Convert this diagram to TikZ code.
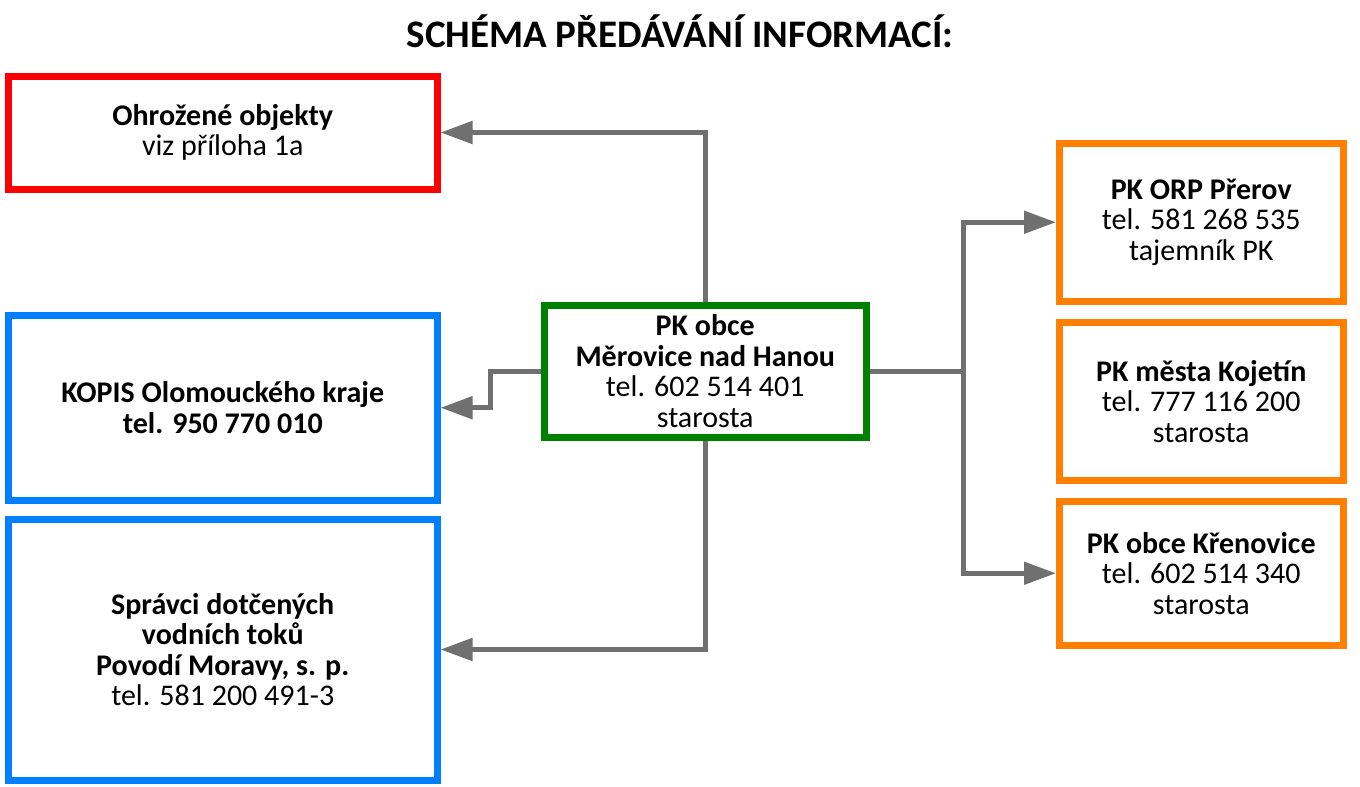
\documentclass[tikz,border=0pt]{standalone}
\usepackage{fontspec}
\setmainfont{Carlito}
\usetikzlibrary{arrows.meta}
\definecolor{cred}{RGB}{255,0,0}
\definecolor{cblue}{RGB}{0,128,255}
\definecolor{cgreen}{RGB}{0,128,0}
\definecolor{corange}{RGB}{255,128,0}
\definecolor{cgray}{RGB}{112,112,112}
\begin{document}
\begin{tikzpicture}[x=1pt,y=-1pt,
  box/.style={draw, line width=7pt, fill=white, align=center, inner sep=0pt,
    font=\fontsize{30}{30.5}\selectfont, text=black},
  conn/.style={draw=cgray, line width=5pt},
  arr/.style={conn, -{Triangle[length=32pt,width=22pt]}}]
\useasboundingbox (0,0) rectangle (1360,787);
\fill[white] (0,0) rectangle (1360,787);
\node[anchor=base, font=\bfseries\fontsize{39}{40}\selectfont] (title) at (680,47) {SCHÉMA PŘEDÁVÁNÍ INFORMACÍ:};
\node[box, draw=cred, minimum width=428.5pt, minimum height=113pt] (red) at (222.75,132.5)
  {\textbf{Ohrožené objekty}\\viz příloha 1a};
\node[box, draw=cblue, minimum width=428.5pt, minimum height=184.5pt] (blue1) at (222.75,407.75)
  {\textbf{KOPIS Olomouckého kraje}\\\textbf{tel. 950 770 010}};
\node[box, draw=cblue, minimum width=428.5pt, minimum height=261pt] (blue2) at (222.75,649.5)
  {\textbf{Správci dotčených}\\\textbf{vodních toků}\\\textbf{Povodí Moravy, s. p.}\\tel. 581 200 491-3};
\node[box, draw=cgreen, minimum width=321.5pt, minimum height=132pt] (green) at (705.25,371)
  {\textbf{PK obce}\\\textbf{Měrovice nad Hanou}\\tel. 602 514 401\\starosta};
\node[box, draw=corange, minimum width=283.5pt, minimum height=158.5pt] (o1) at (1201.25,222.25)
  {\textbf{PK ORP Přerov}\\tel. 581 268 535\\tajemník PK};
\node[box, draw=corange, minimum width=283.5pt, minimum height=157.5pt] (o2) at (1201.25,401.25)
  {\textbf{PK města Kojetín}\\tel. 777 116 200\\starosta};
\node[box, draw=corange, minimum width=283.5pt, minimum height=143.5pt] (o3) at (1201.25,573.25)
  {\textbf{PK obce Křenovice}\\tel. 602 514 340\\starosta};
\coordinate (lj) at (490,371);
\coordinate (rj) at (963,371);
\draw[arr] (green.north) |- (red.east);
\draw[arr] (green.south) |- (blue2.east);
\draw[arr] (green.west) -- (lj) |- (blue1.east);
\draw[conn] (green.east) -- (rj);
\draw[arr] (rj) |- (o1.west);
\draw[arr] (rj) |- (o3.west);
\end{tikzpicture}
\end{document}
